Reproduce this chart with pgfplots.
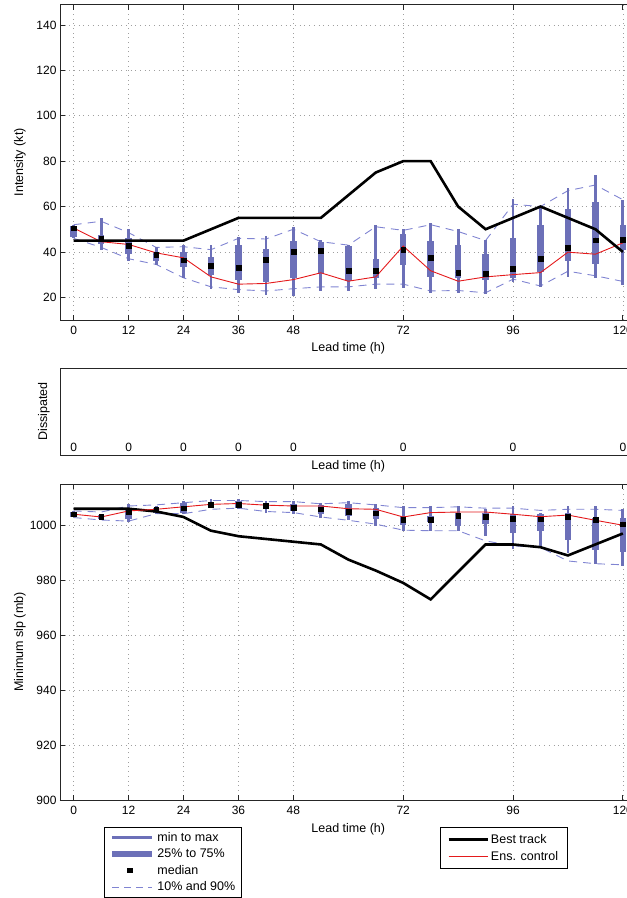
\documentclass[border=0pt]{standalone}
\usepackage{fontspec}
\setmainfont{Liberation Sans}
\usepackage{pgfplots}
\pgfplotsset{compat=1.18}
\usepackage{pgfplotstable}

\definecolor{boxc}{RGB}{108,112,184}
\definecolor{dashc}{RGB}{128,132,210}
\definecolor{ctlc}{RGB}{228,26,28}

\pgfplotstableread{
t min q25 med q75 max p10 p90 ctl best
0 46 46.5 50.5 51.5 52 46 52 50.5 45
6 40.8 43.5 45.7 47.5 55 42 53.5 44.5 45
12 36 39.3 42.9 46 50 37 48.5 43.3 45
18 34.2 36.1 38.9 40 42 34.5 42 39.6 45
24 28.3 33.4 36.4 39.9 43 28.6 42.3 37.4 45
30 23.8 29.7 34 37.9 42.9 24.6 41 29 50
36 21.9 27.5 33 42.9 46.7 23.4 46 25.8 55
42 21 26.8 36.7 41.1 47 22.8 45.7 26.1 55
48 20.6 28.3 40.1 44.9 50.8 23.8 50 27.8 55
54 22.8 30.8 40.5 44.5 45.2 24.6 44.5 30.8 55
60 22.8 27.2 31.7 42.6 43 24.6 43 27.1 65
66 23.8 28.7 31.7 37.1 51.9 25.8 51.1 29 75
72 24.1 34.2 41.1 47.9 50 25.8 49.5 42.6 80
78 21.9 29 37.6 44.9 52.9 22.8 52 31.7 80
84 21.9 28.3 30.9 43 50 23 49 27.1 60
90 21.3 27.5 30.5 39 45.2 22 45 29 50
96 26.8 28.5 32.7 46 63.2 28 61 30 55
102 24.6 31.2 37 51.9 60 25 60 30.9 60
108 29 36.1 42 59 68.1 31.5 67 39.9 55
114 28.3 34.9 45.2 62.2 74 29.5 69.5 39 50
120 25.3 40.8 45.5 51.9 63 27 63 44 40
}\intens

\pgfplotstableread{
t min q25 med q75 max p10 p90 ctl best
0 1003 1003 1004 1004.8 1005 1002.8 1005.2 1004 1006
6 1001.9 1002.4 1003 1003.6 1004 1001.9 1004.8 1003 1006
12 1001 1002.2 1004.8 1006.4 1007.6 1001.5 1007 1005.2 1006
18 1004.2 1004.6 1005.8 1006.4 1007 1004.2 1007.4 1005.8 1005
24 1004 1004.6 1006.2 1008.2 1008.8 1004.2 1008.2 1006.7 1003
30 1006.2 1006.4 1007.4 1008.6 1009.4 1005.8 1009 1007.6 998
36 1005.8 1006.4 1007.6 1008.8 1009.4 1006.2 1009 1007.9 996
42 1004.6 1005.8 1007 1008.2 1008.8 1005 1008.6 1007.3 995
48 1004 1005 1006.4 1007.9 1008.8 1004.6 1008.6 1007 994
54 1002.8 1004 1005.8 1007.4 1008.2 1003 1007.8 1007 993
60 1001.8 1003.4 1004.8 1007.6 1008.8 1001.8 1008.2 1006 987.5
66 999.8 1002.2 1004.4 1006.4 1007.6 1000.4 1007.4 1005.8 983.5
72 997.9 1000.1 1001.9 1003.4 1007 998.2 1006.4 1003 979
78 997.9 1001 1002 1003.4 1007 998 1006.4 1004.6 973
84 997.9 999.8 1003.4 1004.6 1007 998 1006.7 1004.8 983
90 996.1 1000.4 1003 1004.6 1005.8 994.3 1006.2 1004.8 993
96 991.3 997.3 1002.4 1004 1007 992.5 1006.2 1004 993
102 992.1 998 1002.2 1004 1004.6 991.9 1005.4 1003.1 992
108 990 994.6 1003 1004.6 1007 987 1005.8 1003.7 989
114 985.9 990.9 1001.9 1002.8 1007 986 1005.8 1001.8 993
120 985.2 990.1 1000.4 1002.5 1005.8 985.6 1005.4 1000 997
}\slp

\pgfplotstableread{
t y lab
0 0.092 0
12 0.092 0
24 0.092 0
36 0.092 0
48 0.092 0
72 0.092 0
96 0.092 0
120 0.092 0
}\dissip

\pgfplotsset{
  panel/.style={
    scale only axis, width=576.6pt, xmin=-3, xmax=123,
    xtick={0,12,24,36,48,72,96,120},
    tick align=inside, major tick length=5pt,
    axis line style={line width=0.8pt, black!85},
    every tick/.style={black!85, line width=0.8pt},
    grid=major,
    major grid style={gray!75, line width=0.6pt, dash pattern=on 0.7pt off 4pt},
    font=\fontsize{12.5}{15}\selectfont,
    ticklabel style={font=\fontsize{12}{14}\selectfont},
    xticklabel style={yshift=-3pt},
    /pgf/number format/assume math mode=true,
    /pgf/number format/1000 sep={},
    xlabel={Lead time (h)},
  },
  boxes/.style={
    forget plot, only marks, mark=none,
    error bars/.cd, y dir=both, y explicit, error mark=none,
    error bar style={draw=boxc, line width=#1},
  },
}

\begin{document}
\begin{tikzpicture}

% ---------- Top panel: intensity ----------
\begin{axis}[panel, at={(60pt,-320pt)}, anchor=south west,
  height=315.4pt, ymin=10, ymax=149,
  ytick={20,40,...,140},
  ylabel={Intensity (kt)},
  xlabel style={at={(axis description cs:0.5,0)}, anchor=center, yshift=-28pt},
  ylabel style={at={(axis description cs:0,0.5)}, anchor=center, yshift=40pt},
]
\addplot[forget plot, dashc, line width=0.9pt, dash pattern=on 8pt off 6pt] table[x=t,y=p10]{\intens};
\addplot[forget plot, dashc, line width=0.9pt, dash pattern=on 8pt off 6pt] table[x=t,y=p90]{\intens};
\addplot[boxes=2.8pt] table[x=t, y=med, y error plus expr=\thisrow{max}-\thisrow{med}, y error minus expr=\thisrow{med}-\thisrow{min}]{\intens};
\addplot[boxes=6.5pt] table[x=t, y=med, y error plus expr=\thisrow{q75}-\thisrow{med}, y error minus expr=\thisrow{med}-\thisrow{q25}]{\intens};
\addplot[forget plot, only marks, mark=square*, mark size=2.4pt, black] table[x=t,y=med]{\intens};
\addplot[forget plot, ctlc, line width=0.9pt] table[x=t,y=ctl]{\intens};
\addplot[forget plot, black, line width=2.6pt] table[x=t,y=best]{\intens};
\end{axis}

% ---------- Middle panel: dissipated ----------
\begin{axis}[panel, at={(60pt,-455pt)}, anchor=south west,
  height=87pt, ymin=0, ymax=1, xtick=\empty, ytick=\empty, grid=none,
  ylabel={Dissipated},
  xlabel style={at={(axis description cs:0.5,0)}, anchor=center, yshift=-11pt},
  ylabel style={at={(axis description cs:0,0.5)}, anchor=center, yshift=16pt},
]
\addplot[only marks, mark=none, nodes near coords, point meta=explicit symbolic,
  nodes near coords style={anchor=center, font=\fontsize{12}{14}\selectfont}]
  table[x=t, y=y, meta=lab]{\dissip};
\end{axis}

% ---------- Bottom panel: minimum slp ----------
\begin{axis}[panel, at={(60pt,-800pt)}, anchor=south west,
  height=316pt, ymin=900, ymax=1015,
  ytick={900,920,...,1000},
  ylabel={Minimum slp (mb)},
  xlabel style={at={(axis description cs:0.5,0)}, anchor=center, yshift=-29pt},
  ylabel style={at={(axis description cs:0,0.5)}, anchor=center, yshift=40pt},
  legend image code/.code={\draw[#1] (0pt,0pt) -- (39pt,0pt);},
  legend style={at={(axis description cs:0.659,-0.0854)}, anchor=north west,
    draw=black, line width=0.8pt, font=\fontsize{12.5}{15}\selectfont,
    inner xsep=7pt, inner ysep=5pt, nodes={inner sep=2pt, text depth=0.15em}, row sep=2pt},
  legend cell align=left,
]
\addplot[forget plot, dashc, line width=0.9pt, dash pattern=on 8pt off 6pt] table[x=t,y=p10]{\slp};
\addplot[forget plot, dashc, line width=0.9pt, dash pattern=on 8pt off 6pt] table[x=t,y=p90]{\slp};
\addplot[boxes=2.8pt] table[x=t, y=med, y error plus expr=\thisrow{max}-\thisrow{med}, y error minus expr=\thisrow{med}-\thisrow{min}]{\slp};
\addplot[boxes=6.5pt] table[x=t, y=med, y error plus expr=\thisrow{q75}-\thisrow{med}, y error minus expr=\thisrow{med}-\thisrow{q25}]{\slp};
\addplot[forget plot, only marks, mark=square*, mark size=2.4pt, black] table[x=t,y=med]{\slp};
\addplot[black, line width=2.6pt] table[x=t,y=best]{\slp};
\addlegendentry{Best track}
\addplot[ctlc, line width=0.9pt] table[x=t,y=ctl]{\slp};
\addlegendentry{Ens. control}
\end{axis}

% ---------- Box-plot legend ----------
\begin{axis}[at={(60pt,-800pt)}, anchor=south west, scale only axis,
  width=576.6pt, height=316pt, xmin=0, xmax=1, ymin=0, ymax=1, hide axis,
  legend style={at={(axis description cs:0.0763,-0.0854)}, anchor=north west,
    draw=black, line width=0.8pt, font=\fontsize{12.5}{15}\selectfont,
    inner xsep=4.5pt, inner ysep=3pt, nodes={inner sep=2pt, text depth=0.15em}, row sep=2pt},
  legend cell align=left,
]
\addlegendimage{legend image code/.code={\draw[boxc, line width=2.8pt] (0pt,0pt) -- (40pt,0pt);}}
\addlegendentry{min to max}
\addlegendimage{legend image code/.code={\draw[boxc, line width=6.5pt] (0pt,0pt) -- (40pt,0pt);}}
\addlegendentry{25\% to 75\%}
\addlegendimage{legend image code/.code={\path[draw=none] (0pt,0pt) -- (40pt,0pt); \fill[black] (15.6pt,-2.4pt) rectangle (20.4pt,2.4pt);}}
\addlegendentry{median}
\addlegendimage{legend image code/.code={\draw[dashc, line width=0.9pt, dash pattern=on 7pt off 5pt] (0pt,0pt) -- (40pt,0pt);}}
\addlegendentry{10\% and 90\%}
\end{axis}

\pgfresetboundingbox
\path[use as bounding box] (0pt,0pt) rectangle (627pt,-898pt);
\end{tikzpicture}
\end{document}
